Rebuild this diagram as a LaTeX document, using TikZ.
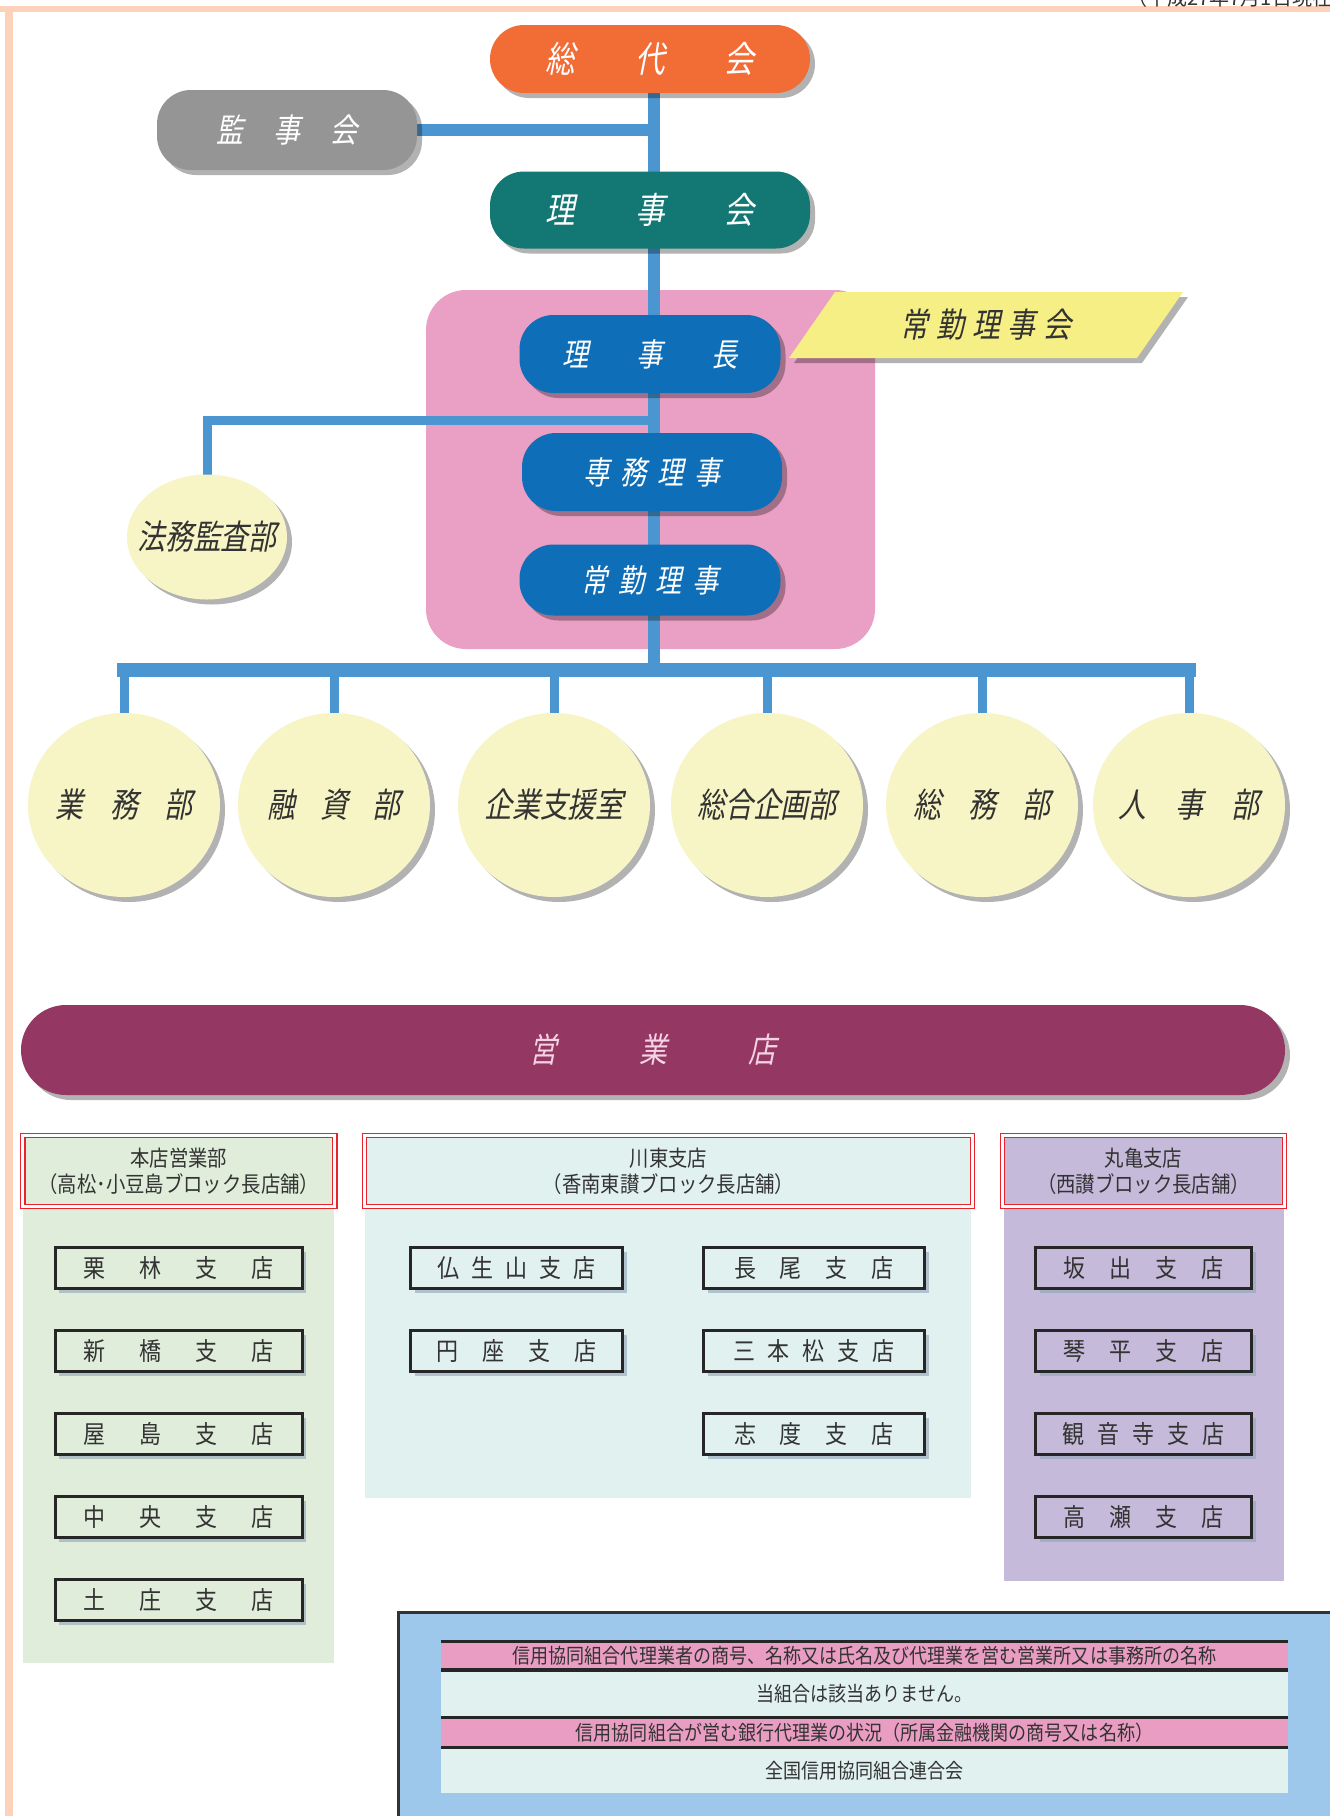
\documentclass[tikz,border=0pt]{standalone}
\usepackage{fontspec}
\setmainfont{Noto Sans CJK JP}
\newfontfamily\jpslant[FakeSlant=0.2,FakeStretch=0.82]{Noto Sans CJK JP}
\newfontfamily\jpnarrow[FakeStretch=0.88]{Noto Sans CJK JP}
\usepackage{tikz}
\usetikzlibrary{shapes.geometric,shadows,positioning}

\pgfdeclarelayer{bg}
\pgfdeclarelayer{lines}
\pgfsetlayers{bg,lines,main}

\definecolor{peach}{HTML}{FCD3BA}
\definecolor{sodaiorange}{HTML}{F26C36}
\definecolor{kanjigray}{HTML}{959595}
\definecolor{rijiteal}{HTML}{137873}
\definecolor{nodeblue}{HTML}{0E6EB7}
\definecolor{connblue}{HTML}{4B95D0}
\definecolor{panelpink}{HTML}{EA9FC4}
\definecolor{yellowp}{HTML}{F5EF85}
\definecolor{paleyel}{HTML}{F7F5C5}
\definecolor{maroon}{HTML}{943762}
\definecolor{bandtext}{HTML}{F4D4E4}
\definecolor{colgreen}{HTML}{DFEDDA}
\definecolor{colteal}{HTML}{E1F1EF}
\definecolor{colpurple}{HTML}{C6BADB}
\definecolor{redline}{HTML}{E8232B}
\definecolor{infoblue}{HTML}{9EC8EB}
\definecolor{tpink}{HTML}{EA9DC3}
\definecolor{textdark}{HTML}{333333}
\definecolor{boxline}{HTML}{262626}
\definecolor{shadowblue}{HTML}{8FA4B8}

\newcommand{\fsz}[1]{\fontsize{#1}{#1}\selectfont}
% letter spacing between single characters
\newcommand{\lspread}[2]{\def\lsgap{#1}\lspreadi#2\relax}
\def\lspreadi#1{#1\futurelet\lsnext\lspreadii}
\def\lspreadii{\ifx\lsnext\relax\expandafter\lspreadend\else\kern\lsgap\relax\expandafter\lspreadi\fi}
\def\lspreadend\relax{}

\tikzset{
  nshadow/.style={drop shadow={shadow xshift=5pt,shadow yshift=-5pt,opacity=.3,fill=black}},
  topbox/.style={rectangle, rounded corners=34pt, minimum width=320pt, minimum height=70pt,
    text=white, font=\jpslant\fsz{36}, nshadow},
  bluebox/.style={topbox, fill=nodeblue, minimum width=261pt, minimum height=78pt, font=\jpslant\fsz{32}},
  deptell/.style={ellipse, fill=paleyel, minimum width=192pt, minimum height=184pt, nshadow},
  depttext/.style={text=textdark, font=\jpslant\fsz{34}},
  conn/.style={draw=connblue},
  header/.style={draw=redline, double=white, double distance=3pt, line width=1.3pt,
    minimum height=71pt, align=center, text=textdark, font=\jpnarrow\fontsize{22}{26}\selectfont},
  branch/.style={draw=boxline, line width=3pt, minimum height=41pt, text=textdark, font=\jpnarrow\fsz{25},
    drop shadow={shadow xshift=4pt,shadow yshift=-4pt,opacity=.6,fill=shadowblue}},
  inforow/.style={minimum width=847pt, text=textdark, font=\jpnarrow\fsz{20.5}},
  rule/.style={draw=boxline, line width=3.5pt}
}

\begin{document}
\begin{tikzpicture}[x=1pt,y=-1pt, every node/.style={inner sep=0pt, outer sep=0pt}]
  \useasboundingbox (0,0) rectangle (1330,1816);

  \begin{pgfonlayer}{bg}
    \fill[white] (0,0) rectangle (1330,1816);
    \draw[peach, line width=6pt] (0,9) -- (1330,9);
    \draw[peach, line width=8pt] (8.5,9) -- (8.5,1816);
    \fill[panelpink, rounded corners=40pt] (426,290) rectangle (875,649);
    % columns of the branches
    \fill[colgreen] (23,1171) rectangle (334,1663);
    \fill[colteal] (365,1171) rectangle (971,1498);
    \fill[colpurple] (1004,1171) rectangle (1284,1581);
  \end{pgfonlayer}

  \node[anchor=base east, text=textdark, font=\fsz{20}] (date) at (1352,5) {（平成27年7月1日現在）};

  % head office
  \node[topbox, fill=sodaiorange, minimum height=68pt] (sodai) at (650,59) {\lspread{60pt}{総代会}};
  \node[topbox, fill=kanjigray, minimum width=260pt, minimum height=80pt, font=\jpslant\fsz{33}] (kanji) at (287,130) {\lspread{30pt}{監事会}};
  \node[topbox, fill=rijiteal, minimum height=77pt] (rijikai) at (650,210) {\lspread{60pt}{理事会}};

  \node[bluebox] (rijicho) at (650,354) {\lspread{48pt}{理事長}};
  \node[bluebox, minimum width=260pt] (senmu) at (652,472) {\lspread{11pt}{専務理事}};
  \node[bluebox, minimum height=71pt] (joukin) at (650,580) {\lspread{11pt}{常勤理事}};

  \fill[yellowp, nshadow] (789,358) -- (835,292) -- (1183,292) -- (1137,358) -- cycle;
  \node[text=textdark, font=\jpslant\fsz{34}] (jkai) at (986,325) {\lspread{8pt}{常勤理事会}};

  \node[deptell, minimum width=160pt, minimum height=125pt] (houmu) at (207,537) {};
  \node[depttext] (houmut) at (houmu) {法務監査部};

  \node[deptell] (gyomu) at (124,805) {};
  \node[deptell] (yushi) at (334,805) {};
  \node[deptell] (kigyo) at (554,805) {};
  \node[deptell] (sogo) at (767,805) {};
  \node[deptell] (somu) at (982,805) {};
  \node[deptell] (jinji) at (1189,805) {};
  \node[depttext] (gyomut) at (gyomu) {\lspread{27pt}{業務部}};
  \node[depttext] (yushit) at (yushi) {\lspread{25pt}{融資部}};
  \node[depttext] (kigyot) at (kigyo) {企業支援室};
  \node[depttext] (sogot) at (sogo) {総合企画部};
  \node[depttext] (somut) at (somu) {\lspread{27pt}{総務部}};
  \node[depttext] (jinjit) at (jinji) {\lspread{29pt}{人事部}};

  \coordinate (trunk) at (654,670);
  \coordinate (legalbar) at (208,420);

  \begin{pgfonlayer}{lines}
    \draw[conn, line width=12pt] (sodai.south -| trunk) -- (trunk);
    \draw[conn, line width=12pt] (kanji.east) -- (kanji.east -| trunk);
    \draw[conn, line width=9pt] (houmu.north) -- (houmu.north |- legalbar) -- (legalbar -| trunk);
    \draw[conn, line width=14pt, line cap=rect] (gyomu.north |- trunk) -- (jinji.north |- trunk);
    \foreach \d in {gyomu,yushi,kigyo,sogo,somu,jinji}
      \draw[conn, line width=9pt] (\d.north |- trunk) -- (\d.north);
  \end{pgfonlayer}

  % branches
  \node[rectangle, rounded corners=45pt, fill=maroon, minimum width=1264pt, minimum height=90pt,
    text=bandtext, font=\jpslant\fsz{34}, nshadow] (eigyo) at (653,1050) {\lspread{82pt}{営業店}};

  \node[header, fill=colgreen, minimum width=312pt] (honten) at (178.75,1171) {本店営業部\\（高松･小豆島ブロック長店舗）};
  \node[header, fill=colteal, minimum width=608pt] (sento) at (668.5,1171) {川東支店\\（香南東讃ブロック長店舗）};
  \node[header, fill=colpurple, minimum width=282pt] (marugame) at (1143.5,1171) {丸亀支店\\（西讃ブロック長店舗）};

  \node[branch, fill=colgreen, minimum width=247pt] (ritsurin) at (178.5,1268) {\lspread{34pt}{栗林支店}};
  \node[branch, fill=colgreen, minimum width=247pt, below=42pt of ritsurin] (shinbashi) {\lspread{34pt}{新橋支店}};
  \node[branch, fill=colgreen, minimum width=247pt, below=42pt of shinbashi] (yashima) {\lspread{34pt}{屋島支店}};
  \node[branch, fill=colgreen, minimum width=247pt, below=42pt of yashima] (chuo) {\lspread{34pt}{中央支店}};
  \node[branch, fill=colgreen, minimum width=247pt, below=42pt of chuo] (tonosho) {\lspread{34pt}{土庄支店}};

  \node[branch, fill=colteal, minimum width=212pt] (busshozan) at (516.5,1268) {\lspread{12pt}{仏生山支店}};
  \node[branch, fill=colteal, minimum width=212pt, below=42pt of busshozan] (enza) {\lspread{24pt}{円座支店}};
  \node[branch, fill=colteal, minimum width=221pt] (nagao) at (814,1268) {\lspread{24pt}{長尾支店}};
  \node[branch, fill=colteal, minimum width=221pt, below=42pt of nagao] (sanbon) {\lspread{13pt}{三本松支店}};
  \node[branch, fill=colteal, minimum width=221pt, below=42pt of sanbon] (shido) {\lspread{24pt}{志度支店}};

  \node[branch, fill=colpurple, minimum width=216pt] (sakaide) at (1143.5,1268) {\lspread{24pt}{坂出支店}};
  \node[branch, fill=colpurple, minimum width=216pt, below=42pt of sakaide] (kotohira) {\lspread{24pt}{琴平支店}};
  \node[branch, fill=colpurple, minimum width=216pt, below=42pt of kotohira] (kanonji) {\lspread{13pt}{観音寺支店}};
  \node[branch, fill=colpurple, minimum width=216pt, below=42pt of kanonji] (takase) {\lspread{24pt}{高瀬支店}};

  % agency table
  \filldraw[fill=infoblue, draw=textdark, line width=3pt] (398.5,1612) rectangle (1345,1830);
  \node[inforow, fill=tpink, minimum height=28.5pt] (q1) at (864.5,1655.75) {信用協同組合代理業者の商号、名称又は氏名及び代理業を営む営業所又は事務所の名称};
  \node[inforow, fill=colteal, minimum height=47.5pt, below=0pt of q1] (a1) {当組合は該当ありません。};
  \node[inforow, fill=tpink, minimum height=30pt, below=0pt of a1] (q2) {信用協同組合が営む銀行代理業の状況（所属金融機関の商号又は名称）};
  \node[inforow, fill=colteal, minimum height=45.5pt, below=0pt of q2] (a2) {全国信用協同組合連合会};
  \foreach \r in {q1,a1,q2,a2}
    \draw[rule] (\r.north west) -- (\r.north east);
\end{tikzpicture}
\end{document}
